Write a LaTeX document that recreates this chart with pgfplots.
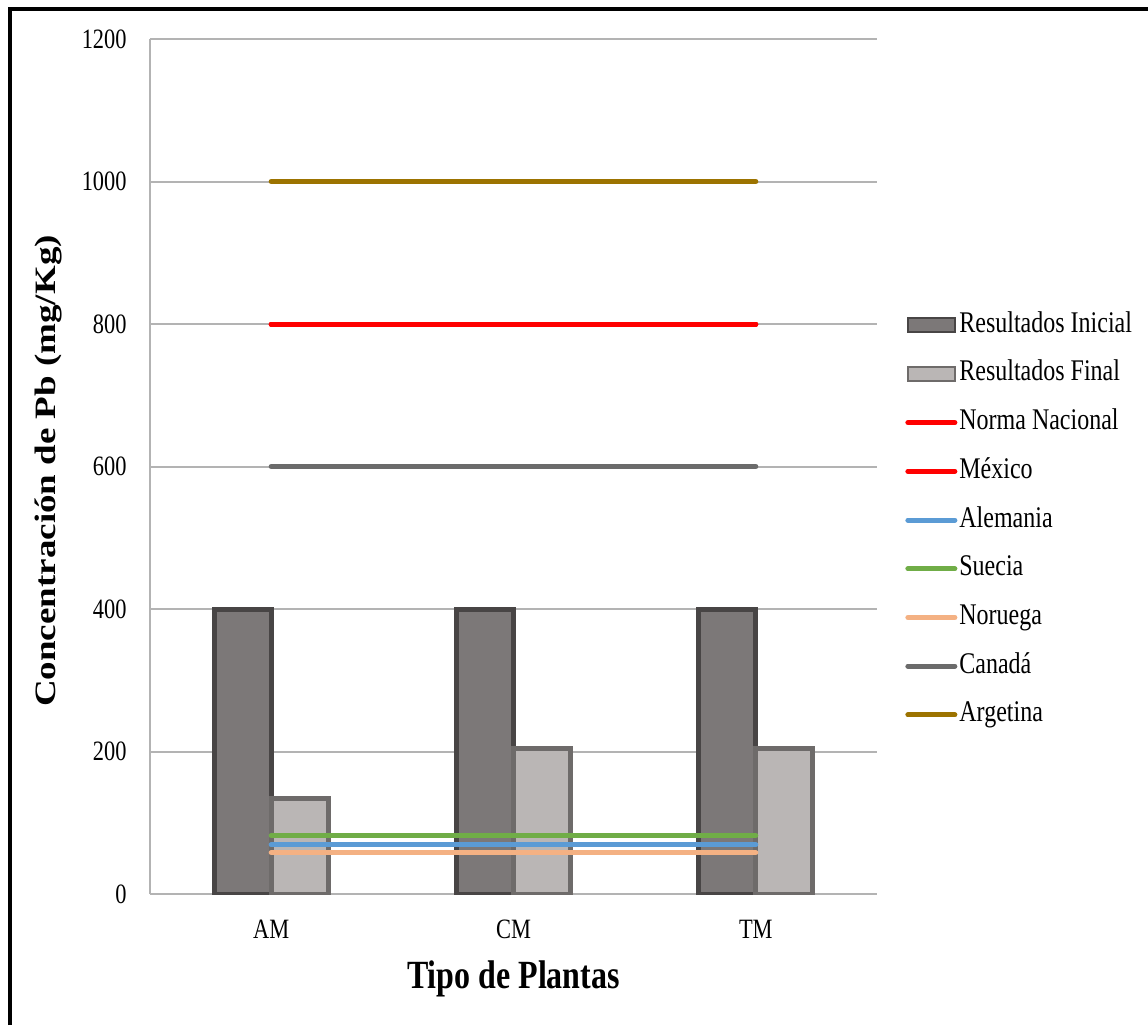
\documentclass[border=0pt]{standalone}
\usepackage{fontspec}
\setmainfont[FakeStretch=0.8]{Liberation Serif}
\newfontfamily\ylabfont[FakeStretch=1.25]{Liberation Serif}
\usepackage{pgfplots}
\pgfplotsset{compat=1.18}
\definecolor{gridgray}{HTML}{B3B3B3}
\definecolor{inicial}{HTML}{7C7878}
\definecolor{inicialedge}{HTML}{484545}
\definecolor{final}{HTML}{BAB6B5}
\definecolor{finaledge}{HTML}{6E6B6A}
\definecolor{argent}{HTML}{9C7300}
\definecolor{canada}{HTML}{6B6B6B}
\definecolor{alem}{HTML}{5B9BD5}
\definecolor{suec}{HTML}{70AD47}
\definecolor{norue}{HTML}{F4B183}
\begin{document}
\begin{tikzpicture}
\useasboundingbox (0,0) rectangle (574pt,-512.5pt);
\draw[line width=1.6pt,black] (5pt,-512.5pt) -- (5pt,-4.5pt) -- (574pt,-4.5pt);
\begin{axis}[
  at={(75pt,-447pt)}, anchor=south west,
  scale only axis, width=363.5pt, height=427.5pt,
  xmin=-0.5, xmax=2.5, ymin=0, ymax=1200,
  xtick={0,1,2}, xticklabels={AM,CM,TM},
  ytick={0,200,...,1200},
  ymajorgrids, grid style={draw=gridgray, line width=1pt},
  separate axis lines,
  axis x line*=bottom, axis y line*=left,
  axis line style={draw=gridgray, line width=1pt, -},
  major tick length=0pt,
  /pgf/number format/assume math mode=true,
  /pgf/number format/1000 sep={},
  tick label style={font=\fontsize{14}{16}\selectfont, inner sep=0pt},
  yticklabel style={xshift=-11.5pt},
  xticklabel style={yshift=-13pt},
  xlabel={\textbf{Tipo de Plantas}},
  xlabel style={at={(axis description cs:0.5,0)}, anchor=north, inner sep=0pt, yshift=-33pt, font=\fontsize{20}{22}\selectfont},
  ylabel={\textbf{Concentración de Pb (mg/Kg)}},
  ylabel style={at={(axis description cs:-0.1390,0.4947)}, anchor=center, inner sep=0pt, font=\ylabfont\fontsize{14.8}{16}\selectfont},
  legend cell align=left,
  legend style={at={(axis description cs:1.0385,0.4374)}, anchor=west, draw=none, fill=none,
    inner sep=0pt, row sep=10.35pt,
    nodes={inner sep=0pt, text height=10.5pt, text depth=3.5pt, font=\fontsize{15}{17}\selectfont}},
  /tikz/every odd column/.append style={column sep=1pt},
  bar width=0.235,
]
\addplot[ybar, bar shift=-0.1175, fill=inicial, draw=inicialedge, line width=0.8pt,
  legend image code/.code={\draw[fill=inicial, draw=inicialedge, line width=1pt] (0pt,-3.5pt) rectangle (23.5pt,3.5pt);}]
  coordinates {(0,400) (1,400) (2,400)};
\addlegendentry{Resultados Inicial}
\addplot[ybar, bar shift=0.1175, fill=final, draw=finaledge, line width=0.8pt,
  legend image code/.code={\draw[fill=final, draw=finaledge, line width=1pt] (0pt,-3.5pt) rectangle (23.5pt,3.5pt);}]
  coordinates {(0,134) (1,204) (2,204)};
\addlegendentry{Resultados Final}
\pgfplotsset{every axis plot post/.append style={line width=2.5pt, line cap=round},
  legend image code/.code={\draw[#1] (0pt,0pt) -- (23.5pt,0pt);}}
\addplot[red, no marks] coordinates {(0,800) (1,800) (2,800)};
\addlegendentry{Norma Nacional}
\addplot[red, no marks] coordinates {(0,800) (1,800) (2,800)};
\addlegendentry{México}
\addplot[alem, no marks] coordinates {(0,69) (1,69) (2,69)};
\addlegendentry{Alemania}
\addplot[suec, no marks] coordinates {(0,82) (1,82) (2,82)};
\addlegendentry{Suecia}
\addplot[norue, no marks] coordinates {(0,58) (1,58) (2,58)};
\addlegendentry{Noruega}
\addplot[canada, no marks] coordinates {(0,600) (1,600) (2,600)};
\addlegendentry{Canadá}
\addplot[argent, no marks] coordinates {(0,1000) (1,1000) (2,1000)};
\addlegendentry{Argetina}
\end{axis}
\end{tikzpicture}
\end{document}
